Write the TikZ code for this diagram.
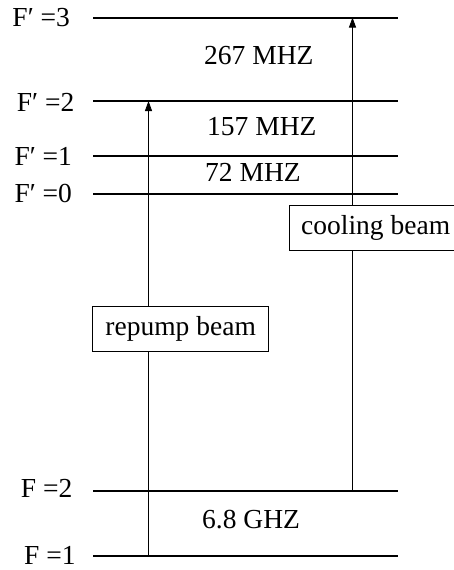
\documentclass[tikz,border=0pt]{standalone}
\usepackage{fontspec}
\setmainfont{Liberation Serif}
\usetikzlibrary{arrows.meta}
\begin{document}
\begin{tikzpicture}[x=1pt,y=-1pt,
  level/.style={line width=2pt},
  beam/.style={line width=0.9pt,-{Triangle[width=7pt,length=10pt]}},
  lbl/.style={anchor=base west,inner sep=0pt,font=\fontsize{27.5}{32}\selectfont},
  beambox/.style={draw,fill=white,line width=0.8pt,inner sep=0pt,font=\fontsize{27.5}{32}\selectfont}]
\useasboundingbox (0,0) rectangle (454,570);
% levels
\foreach \n/\y in {f3/17.5, f2/101, f1/156, f0/193.5, g2/490.5, g1/555.5}{
  \coordinate (\n-l) at (93,\y);
  \coordinate (\n-r) at (398,\y);
  \draw[level] (\n-l) -- (\n-r);
}
% beams
\coordinate (rp-s) at (148.5,555.5);
\coordinate (rp-e) at (148.5,101);
\coordinate (cl-s) at (352.5,490.5);
\coordinate (cl-e) at (352.5,17.5);
\draw[beam] (rp-s) -- (rp-e);
\draw[beam] (cl-s) -- (cl-e);
\node[beambox,minimum width=176pt,minimum height=45.7pt] (rpbox) at (180.7,329) {repump beam};
\node[beambox,minimum width=173pt,minimum height=45.7pt] (clbox) at (375.7,228) {cooling beam};
% level labels
\node[lbl] (lf3) at (12.3,26) {F′ =3};
\node[lbl] (lf2) at (16.7,111.2) {F′ =2};
\node[lbl] (lf1) at (14.3,165) {F′ =1};
\node[lbl] (lf0) at (14.3,202.5) {F′ =0};
\node[lbl] (lg2) at (20.7,497) {F =2};
\node[lbl] (lg1) at (24,564) {F =1};
% splittings
\node[lbl] (s3) at (204,64) {267 MHZ};
\node[lbl] (s2) at (207,135) {157 MHZ};
\node[lbl] (s1) at (205,181.7) {72 MHZ};
\node[lbl] (s0) at (202,528) {6.8 GHZ};
\end{tikzpicture}
\end{document}
